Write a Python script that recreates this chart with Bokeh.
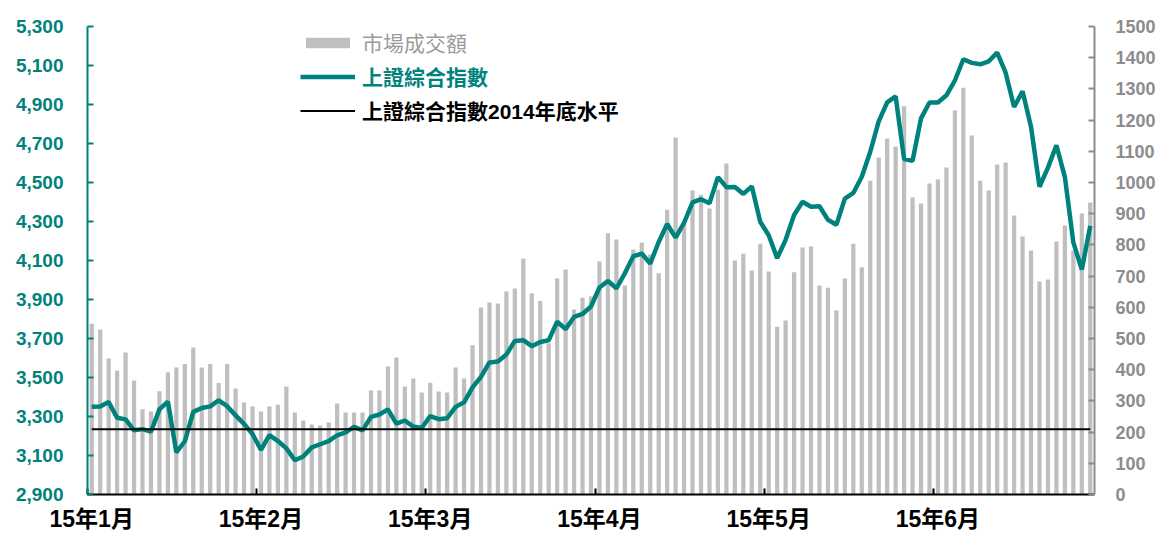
from bokeh.plotting import figure
from bokeh.models import (LinearAxis, Range1d, FixedTicker, Legend, LegendItem,
                          ColumnDataSource, NumeralTickFormatter)
from bokeh.embed import file_html
from bokeh.resources import INLINE

# ---- data (trading days, 2015-01-05 .. 2015-06-30) ----
month_labels = ["15年1月", "15年2月", "15年3月", "15年4月", "15年5月", "15年6月"]
label_every = 20

sse_close = [
    3350.52, 3351.45, 3373.95, 3293.46, 3285.41, 3229.32, 3235.30, 3222.44, 3336.45, 3376.50,
    3116.35, 3173.05, 3323.61, 3343.34, 3351.76, 3383.18, 3352.96, 3305.74, 3262.30, 3210.36,
    3128.30, 3204.91, 3174.13, 3136.53, 3075.91, 3095.12, 3141.59, 3157.70, 3173.42, 3203.83,
    3219.00, 3246.91, 3228.84, 3298.36, 3310.30,
    3336.28, 3263.05, 3279.53, 3248.48, 3241.19, 3302.41, 3286.07, 3290.90, 3349.32, 3372.91,
    3449.30, 3502.85, 3577.30, 3582.27, 3617.32, 3687.73, 3691.41, 3660.73, 3682.09, 3691.10,
    3786.57, 3747.90,
    3810.29, 3825.78, 3863.93, 3961.38, 3994.81, 3957.53, 4034.31, 4121.71, 4135.56, 4084.16,
    4194.82, 4287.30, 4217.08, 4293.62, 4398.49, 4414.51, 4393.69, 4527.40, 4476.21, 4476.62,
    4441.66,
    4480.46, 4298.71, 4229.27, 4112.21, 4205.92, 4333.58, 4401.22, 4375.76, 4378.31, 4308.69,
    4283.49, 4417.55, 4446.29, 4529.42, 4657.60, 4813.80, 4910.90, 4941.71, 4620.27, 4611.74,
    4828.74, 4910.53, 4909.98, 4947.10, 5023.10, 5131.88, 5113.53, 5106.04, 5121.59, 5166.35,
    5062.99, 4887.43, 4967.90, 4785.36, 4478.36, 4576.49, 4690.15, 4527.78, 4192.87, 4053.03,
    4277.22,
]

turnover = [
    547, 529, 436, 397, 455, 365, 273, 266, 331, 392,
    407, 418, 471, 407, 418, 357, 418, 340, 295, 282,
    266, 282, 288, 346, 263, 237, 224, 221, 231, 292,
    263, 263, 263, 333, 333,
    410, 439, 346, 372, 327, 358, 330, 327, 407, 372,
    478, 599, 615, 612, 651, 660, 756, 645, 620, 485,
    692, 721,
    593, 631, 635, 747, 837, 817, 670, 785, 808, 769,
    709, 913, 1144, 870, 974, 961, 917, 977, 1061, 750,
    772,
    718, 804, 715, 538, 558, 712, 792, 795, 670, 663,
    590, 692, 804, 728, 1006, 1080, 1141, 1115, 1244, 952,
    933, 997, 1010, 1048, 1231, 1304, 1151, 1006, 974, 1058,
    1064, 894, 827, 782, 683, 689, 811, 862, 782, 901,
    936,
]

level_2014 = 3234.68

left_ticks = list(range(2900, 5301, 200))
right_ticks = list(range(0, 1501, 100))

# ---- build ----
n = len(sse_close)
xs = [i + 0.5 for i in range(n)]
src = ColumnDataSource(dict(x=xs, close=sse_close, vol=turnover, base=[level_2014] * n))

TEAL = "#00827C"
GRAY_BAR = "#BFBFBF"
GRAY_TXT = "#8C8C8C"
NUM_FONT = "Liberation Sans"
CJK_FONT = "Liberation Sans, Noto Sans CJK TC"

p = figure(width=1163, height=535, output_backend="svg", toolbar_location=None,
           x_range=Range1d(0, n), y_range=Range1d(left_ticks[0], left_ticks[-1]),
           min_border_left=87, min_border_right=69, min_border_top=26, min_border_bottom=41)
p.outline_line_color = None
p.grid.visible = False
p.background_fill_color = "white"
p.border_fill_color = "white"
p.extra_y_ranges = {"vol": Range1d(right_ticks[0], right_ticks[-1])}

bars = p.vbar(x="x", top="vol", width=0.5, y_range_name="vol", fill_color=GRAY_BAR,
              line_color=None, source=src)
idx_line = p.line("x", "close", line_color=TEAL, line_width=4.5, source=src)
base_line = p.line("x", "base", line_color="black", line_width=2, source=src)

# bottom axis: labels centred on categories, tick marks (minor) at category boundaries
label_pos = [i * label_every + 0.5 for i in range(len(month_labels))]
boundaries = [i * label_every for i in range(len(month_labels))]
xa = p.xaxis[0]
xa.ticker = FixedTicker(ticks=label_pos, minor_ticks=boundaries)
xa.major_label_overrides = {pos: lab for pos, lab in zip(label_pos, month_labels)}
xa.major_tick_line_color = None
xa.minor_tick_line_color = "black"
xa.minor_tick_line_width = 2
xa.minor_tick_in = 6
xa.minor_tick_out = 0
xa.axis_line_color = "black"
xa.axis_line_width = 2
xa.major_label_standoff = 5
xa.major_label_text_font = CJK_FONT
xa.major_label_text_font_style = "bold"
xa.major_label_text_font_size = "23px"
xa.major_label_text_color = "black"

# left axis
ya = p.yaxis[0]
ya.ticker = FixedTicker(ticks=left_ticks)
ya.formatter = NumeralTickFormatter(format="0,0")
ya.major_label_text_color = TEAL
ya.major_label_text_font = NUM_FONT
ya.major_label_text_font_style = "bold"
ya.major_label_text_font_size = "19px"
ya.major_label_standoff = 24
ya.axis_line_color = TEAL
ya.axis_line_width = 2
ya.major_tick_line_color = TEAL
ya.major_tick_line_width = 2
ya.major_tick_in = 6
ya.major_tick_out = 0
ya.minor_tick_line_color = None

# right axis
yr = LinearAxis(y_range_name="vol", ticker=FixedTicker(ticks=right_ticks))
yr.major_label_text_color = GRAY_TXT
yr.major_label_text_font = NUM_FONT
yr.major_label_text_font_style = "bold"
yr.major_label_text_font_size = "18px"
yr.major_label_standoff = 21
yr.axis_line_color = GRAY_TXT
yr.axis_line_width = 2
yr.major_tick_line_color = GRAY_TXT
yr.major_tick_line_width = 2
yr.major_tick_in = 6
yr.major_tick_out = 0
yr.minor_tick_line_color = None
p.add_layout(yr, "right")

# legends (three, so each label keeps its own colour)
def make_legend(label, renderer, color, style, bottom_y):
    lg = Legend(items=[LegendItem(label=label, renderers=[renderer])],
                location=(213, bottom_y), orientation="vertical",
                glyph_width=55, glyph_height=13, label_height=13, label_standoff=7,
                padding=0, margin=0, spacing=0,
                border_line_color=None, background_fill_alpha=0,
                label_text_font=CJK_FONT, label_text_font_size="21px",
                label_text_color=color, label_text_font_style=style)
    p.add_layout(lg, "center")

make_legend("市場成交額", bars, "#9B9B9B", "normal", 437)
make_legend("上證綜合指數", idx_line, TEAL, "bold", 403)
make_legend("上證綜合指數2014年底水平", base_line, "black", "bold", 369)

open("out.html", "w").write(file_html(p, INLINE))
